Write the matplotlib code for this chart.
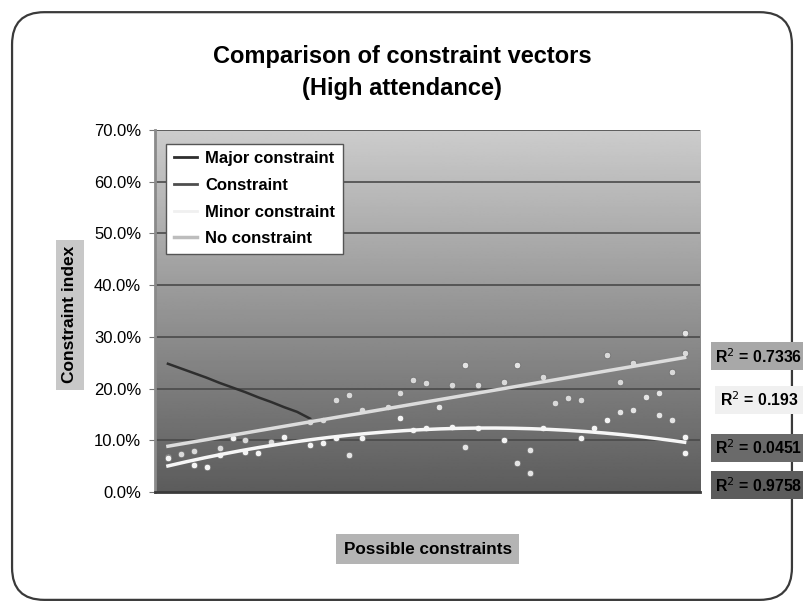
import numpy as np
import matplotlib
matplotlib.use("Agg")
import matplotlib.pyplot as plt
from matplotlib.patches import FancyBboxPatch
from matplotlib.lines import Line2D

plt.rcParams['font.family'] = ['Liberation Sans', 'DejaVu Sans']

# --- data (values in %) ---
series_names = ["Major constraint", "Constraint", "Minor constraint", "No constraint"]
r2_labels = ["0.7336", "0.193", "0.0451", "0.9758"]
y_ticks = [0, 10, 20, 30, 40, 50, 60, 70]

major_x = [1, 2, 3, 4, 5, 6, 7, 8, 9, 10, 11, 12]
major_y = [24.8, 23.9, 23.0, 22.1, 21.1, 20.2, 19.3, 18.3, 17.4, 16.4, 15.5, 14.2]

constraint_x = [15, 22, 24, 24, 28, 28, 29, 29, 36, 37, 38, 39, 39, 40, 41]
constraint_y = [7.2, 16.4, 8.7, 24.6, 5.6, 24.6, 3.7, 8.1, 15.5, 15.9, 18.4,
                19.1, 14.9, 13.9, 30.7]

minor_x = [1, 3, 4, 5, 6, 7, 8, 10, 12, 13, 14, 16, 19, 20, 21, 23, 25,
           27, 30, 33, 34, 35, 41, 41]
minor_y = [6.6, 5.2, 4.8, 7.2, 10.4, 7.7, 7.5, 10.6, 9.1, 9.5, 10.4,
           10.4, 14.3, 12.0, 12.4, 12.6, 12.4, 10.1, 12.4, 10.4, 12.4, 13.9,
           10.6, 7.5]

no_x = [1, 2, 3, 5, 7, 9, 12, 13, 14, 15, 16, 18, 19, 20, 21, 23, 25,
        27, 30, 31, 32, 33, 35, 36, 37, 40, 41]
no_y = [6.8, 7.4, 8.0, 8.5, 10.1, 9.7, 13.5, 13.9, 17.8, 18.8, 15.9, 16.4,
        19.1, 21.7, 21.1, 20.7, 20.7, 21.3, 22.2, 17.2, 18.2, 17.8, 26.5, 21.3,
        25.0, 23.2, 26.9]

fig = plt.figure(figsize=(8.04, 6.09), dpi=100)

# rounded frame round the whole chart
frame = FancyBboxPatch((0.015, 0.015), 0.97, 0.965, boxstyle="round,pad=0,rounding_size=0.04",
                       transform=fig.transFigure, facecolor="white", edgecolor="#3a3a3a",
                       linewidth=1.6, mutation_aspect=804 / 609, zorder=-10)
fig.patches.append(frame)

fig.text(0.5, 0.908, "Comparison of constraint vectors", ha="center", va="center",
         fontsize=17, fontweight="bold")
fig.text(0.5, 0.855, "(High attendance)", ha="center", va="center",
         fontsize=17, fontweight="bold")

ax = fig.add_axes([0.1928, 0.1921, 0.678, 0.5944])
ax.set_xlim(0, 42.2)
ax.set_ylim(0, 70)

# gradient background
grad = np.linspace(0.36, 0.80, 256).reshape(-1, 1)
ax.imshow(grad, cmap="gray", vmin=0, vmax=1, aspect="auto", origin="lower",
          extent=[0, 42.2, 0, 70], zorder=0)

for t in y_ticks[1:]:
    ax.axhline(t, color="#4a4a4a", linewidth=1.2, zorder=1)

ax.set_yticks(y_ticks)
ax.set_yticklabels([f"{t:.1f}%" for t in y_ticks], fontsize=12)
ax.set_xticks([])
ax.tick_params(axis="y", length=4, color="#777777", pad=6)
for side in ["top", "right"]:
    ax.spines[side].set_visible(False)
ax.spines["left"].set_color("#8a8a8a")
ax.spines["left"].set_linewidth(2)
ax.spines["bottom"].set_color("#3a3a3a")
ax.spines["bottom"].set_linewidth(2)

# data
ax.plot(major_x, major_y, color="#2e2e2e", linewidth=1.8, zorder=3)
ax.scatter(constraint_x, constraint_y, s=22, color="#e4e4e4", edgecolors="#6a6a6a",
           linewidths=0.5, zorder=4)
ax.scatter(no_x, no_y, s=22, color="#d9d9d9", edgecolors="#6a6a6a", linewidths=0.5, zorder=4)
ax.scatter(minor_x, minor_y, s=22, color="#f4f4f4", edgecolors="#6a6a6a", linewidths=0.5, zorder=4)

# trendlines from the data
xs = np.linspace(1, 41, 200)
lin = np.polyfit(no_x, no_y, 1)
ax.plot(xs, np.polyval(lin, xs), color="#dcdcdc", linewidth=2.5, zorder=5)
quad = np.polyfit(minor_x, minor_y, 2)
ax.plot(xs, np.polyval(quad, xs), color="#f6f6f6", linewidth=2.5, zorder=5)

handles = [Line2D([], [], color="#2e2e2e", lw=2),
           Line2D([], [], color="#4e4e4e", lw=2),
           Line2D([], [], color="#f0f0f0", lw=2),
           Line2D([], [], color="#bdbdbd", lw=2.5)]
leg = ax.legend(handles, series_names, loc="upper left", bbox_to_anchor=(0.005, 0.985),
                prop={"weight": "bold", "size": 12}, frameon=True, fancybox=False,
                handlelength=1.4, handletextpad=0.5, borderpad=0.45, labelspacing=0.7)
leg.get_frame().set_edgecolor("#555555")
leg.get_frame().set_facecolor("white")
leg.get_frame().set_alpha(1)

# axis titles with grey boxes
fig.text(0.087, 0.483, "Constraint index", rotation=90, ha="center", va="center",
         fontsize=12.5, fontweight="bold",
         bbox=dict(boxstyle="square,pad=0.35", facecolor="#c8c8c8", edgecolor="none"))
fig.text(0.532, 0.0985, "Possible constraints", ha="center", va="center",
         fontsize=12.3, fontweight="bold",
         bbox=dict(boxstyle="square,pad=0.45", facecolor="#b4b4b4", edgecolor="none"))

# R-squared labels
r2_y = [0.415, 0.343, 0.265, 0.203]
r2_bg = ["#a8a8a8", "#f0f0f0", "#6a6a6a", "#5c5c5c"]
for lab, yy, bg in zip(r2_labels, r2_y, r2_bg):
    fig.text(0.944, yy, f"R$^2$ = {lab}", ha="center", va="center", fontsize=11.4,
             fontweight="bold",
             bbox=dict(boxstyle="square,pad=0.3", facecolor=bg, edgecolor="none"))

fig.savefig("out.png", dpi=100)
